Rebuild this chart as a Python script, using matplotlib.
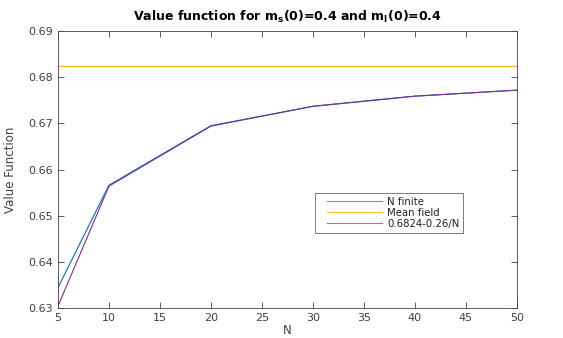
import matplotlib
matplotlib.use("Agg")
import matplotlib.pyplot as plt
import numpy as np
from matplotlib.legend_handler import HandlerLine2D

N = [5, 10, 20, 30, 40, 50]
v_finite = [0.6344, 0.6566, 0.6695, 0.6737, 0.6759, 0.6772]
mean_field = 0.6824
v_approx = [0.6304, 0.6564, 0.6694, 0.6737, 0.6759, 0.6772]

labels = ["N finite", "Mean field", "0.6824-0.26/N"]
colors = ["#0072BD", "#EDB120", "#7E2F8E"]
legend_colors = ["#4FA3D4", "#E9BE4A", "#9E73A8"]
axcol = "#404040"


class PadHandler(HandlerLine2D):
    def get_xdata(self, legend, xdescent, ydescent, width, height, fontsize):
        pad = 0.85 * fontsize
        xd = np.array([-xdescent + pad, -xdescent + width])
        return xd, np.array([-xdescent + 0.5 * width])


fig = plt.figure(figsize=(5.63, 3.38), dpi=100)
ax = fig.add_axes([0.103, 0.089, 0.815, 0.819])
l1, = ax.plot(N, v_finite, color=colors[0], lw=0.8, label=labels[0])
l2, = ax.plot([N[0], N[-1]], [mean_field, mean_field], color=colors[1], lw=0.8, label=labels[1])
l3, = ax.plot(N, v_approx, color=colors[2], lw=0.8, label=labels[2])

ax.set_xlim(5, 50)
ax.set_ylim(0.63, 0.69)
ax.set_xticks(range(5, 51, 5))
ax.set_yticks([0.63, 0.64, 0.65, 0.66, 0.67, 0.68, 0.69])
ax.set_yticklabels(["0.63", "0.64", "0.65", "0.66", "0.67", "0.68", "0.69"])
ax.tick_params(direction="in", length=4, width=0.6, colors=axcol, labelsize=8,
               top=True, right=True, labeltop=False, labelright=False)
for s in ax.spines.values():
    s.set_color(axcol)
    s.set_linewidth(0.6)
ax.set_xlabel("N", fontsize=8.5, color=axcol, labelpad=1)
ax.set_ylabel("Value Function", fontsize=8.5, color=axcol, labelpad=8)
ax.set_title(r"Value function for m$_\mathregular{s}$(0)=0.4 and m$_\mathregular{I}$(0)=0.4",
             fontsize=9, fontweight="bold", pad=7)

h = PadHandler()
leg = ax.legend(loc="upper left", bbox_to_anchor=(0.56, 0.415), fontsize=7.3,
                frameon=True, fancybox=False, handlelength=6.3, borderpad=0.35,
                labelspacing=0.12, handletextpad=0.5, borderaxespad=0,
                handler_map={l1: h, l2: h, l3: h})
leg.get_frame().set_edgecolor(axcol)
leg.get_frame().set_linewidth(0.6)
for ln, c in zip(leg.get_lines(), legend_colors):
    ln.set_color(c)
    ln.set_linewidth(0.8)
for t in leg.get_texts():
    t.set_color("#202020")

fig.savefig("out.png", dpi=100)
